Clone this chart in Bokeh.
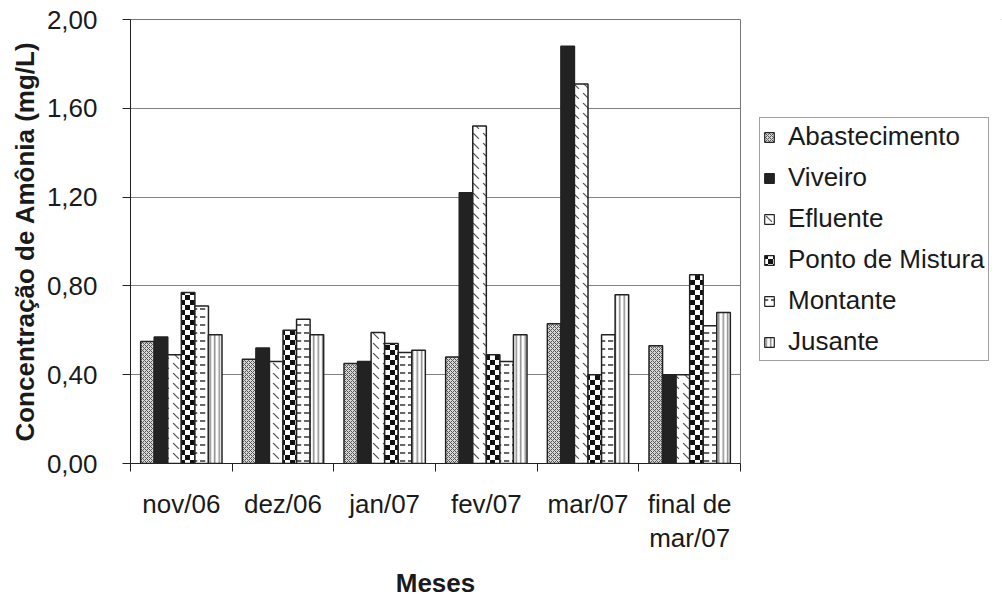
import base64
import struct
import zlib

import numpy as np
from bokeh.plotting import figure
from bokeh.layouts import row
from bokeh.core.properties import value
from bokeh.models import (ColumnDataSource, Range1d, FixedTicker, CustomJSTickFormatter,
                          Legend, LegendItem, ImageURLTexture)
from bokeh.transform import dodge
from bokeh.embed import file_html
from bokeh.resources import INLINE

# Ammonia concentration (mg/L) per sampling point and month
categories = ["nov/06", "dez/06", "jan/07", "fev/07", "mar/07", "final de\nmar/07"]
abastecimento = [0.55, 0.47, 0.45, 0.48, 0.63, 0.53]
viveiro = [0.57, 0.52, 0.46, 1.22, 1.88, 0.40]
efluente = [0.49, 0.46, 0.59, 1.52, 1.71, 0.40]
ponto_de_mistura = [0.77, 0.60, 0.54, 0.49, 0.40, 0.85]
montante = [0.71, 0.65, 0.50, 0.46, 0.58, 0.62]
jusante = [0.58, 0.58, 0.51, 0.58, 0.76, 0.68]

series_names = ["Abastecimento", "Viveiro", "Efluente", "Ponto de Mistura", "Montante", "Jusante"]
series_values = [abastecimento, viveiro, efluente, ponto_de_mistura, montante, jusante]
y_ticks = [0.0, 0.4, 0.8, 1.2, 1.6, 2.0]

FONT = "Liberation Sans"
centers = list(np.arange(len(categories)) + 0.5)
source = ColumnDataSource(dict(x=centers, **{f"s{i}": v for i, v in enumerate(series_values)}))


def checker_png(cell=5, dark=17, light=255):
    """Tiny grayscale PNG tile (2x2 cells) used as a checkerboard texture."""
    size = 2 * cell
    raw = b""
    for yy in range(size):
        line = bytes(dark if ((xx // cell) + (yy // cell)) % 2 == 0 else light for xx in range(size))
        raw += b"\x00" + line

    def chunk(tag, data):
        return struct.pack(">I", len(data)) + tag + data + struct.pack(">I", zlib.crc32(tag + data) & 0xFFFFFFFF)

    png = (b"\x89PNG\r\n\x1a\n"
           + chunk(b"IHDR", struct.pack(">IIBBBBB", size, size, 8, 0, 0, 0, 0))
           + chunk(b"IDAT", zlib.compress(raw))
           + chunk(b"IEND", b""))
    return "data:image/png;base64," + base64.b64encode(png).decode()


checker = ImageURLTexture(url=checker_png(), repetition="repeat")

styles = [
    dict(fill_color="#d8d8d8", hatch_pattern="diagonal_cross", hatch_color="#555555", hatch_scale=4, hatch_weight=1),
    dict(fill_color="#222222"),
    dict(fill_color="white", hatch_pattern="left_diagonal_dash", hatch_color="#555555", hatch_scale=10, hatch_weight=1.2),
    dict(fill_color="white", hatch_pattern=value("checker"), hatch_extra={"checker": checker}),
    dict(fill_color="white", hatch_pattern="horizontal_dash", hatch_color="#333333", hatch_scale=8, hatch_weight=1.5),
    dict(fill_color="white", hatch_pattern="vertical_line", hatch_color="#888888", hatch_scale=4.5, hatch_weight=1.5),
]

p = figure(width=759, height=601, output_backend="svg", toolbar_location=None,
           x_range=Range1d(0, len(categories)), y_range=Range1d(0, 2.0),
           min_border_left=130, min_border_right=19, min_border_top=19, min_border_bottom=137)
p.background_fill_color = "white"
p.border_fill_color = "white"
p.outline_line_color = "#777777"
p.outline_line_width = 1

n = len(series_names)
bar_w = 0.8 / n
for i, st in enumerate(styles):
    off = (i - (n - 1) / 2) * bar_w
    p.vbar(x=dodge("x", off), top=f"s{i}", width=bar_w, source=source,
           line_color="#222222", line_width=1.5, **st)

# y axis
p.yaxis.ticker = FixedTicker(ticks=y_ticks)
p.yaxis.formatter = CustomJSTickFormatter(code="return tick.toFixed(2).replace('.', ',');")
p.yaxis.major_tick_in = 0
p.yaxis.major_tick_out = 8
p.yaxis.major_label_standoff = 25
p.yaxis.axis_label = "Concentração de Amônia (mg/L)"
p.yaxis.axis_label_standoff = 4

# x axis: labels at group centres, ticks at group boundaries
p.xaxis.ticker = FixedTicker(ticks=centers, minor_ticks=list(range(len(categories) + 1)))
p.xaxis.major_label_overrides = {c: lab for c, lab in zip(centers, categories)}
p.xaxis.major_tick_in = 0
p.xaxis.major_tick_out = 0
p.xaxis.minor_tick_in = 0
p.xaxis.minor_tick_out = 8
p.xaxis.major_label_standoff = 17
p.xaxis.axis_label = "Meses"
p.xaxis.axis_label_standoff = 12

for ax in (p.xaxis, p.yaxis):
    ax.axis_line_color = "#222222"
    ax.major_tick_line_color = "#222222"
    ax.minor_tick_line_color = "#222222"
    ax.major_label_text_font = FONT
    ax.major_label_text_font_size = "26px"
    ax.major_label_text_color = "#1a1a1a"
    ax.major_label_text_line_height = 1.15
    ax.axis_label_text_font = FONT
    ax.axis_label_text_font_size = "26px"
    ax.axis_label_text_font_style = "bold"
    ax.axis_label_text_color = "#1a1a1a"
p.yaxis.minor_tick_line_color = None

p.xgrid.grid_line_color = None
p.ygrid.ticker = FixedTicker(ticks=y_ticks)
p.ygrid.grid_line_color = "#808080"
p.ygrid.grid_line_width = 1

# legend panel: a bare figure whose swatch renderers sit outside its visible ranges
lg = figure(width=243, height=601, output_backend="svg", toolbar_location=None,
            x_range=Range1d(0, 1), y_range=Range1d(0, 1), min_border=0)
lg.axis.visible = False
lg.grid.visible = False
lg.outline_line_color = None
lg.border_fill_color = "white"
swatch = ColumnDataSource(dict(x=[5.0], bottom=[5.0], top=[6.0]))
items = []
for name, st in zip(series_names, styles):
    r = lg.vbar(x="x", bottom="bottom", top="top", width=0.1, source=swatch,
                line_color="#222222", line_width=1.2, **st)
    items.append(LegendItem(label=name, renderers=[r]))

legend = Legend(items=items, location=(0, 102))
legend.label_text_font = FONT
legend.label_text_font_size = "26px"
legend.label_text_color = "#1a1a1a"
legend.glyph_width = 12
legend.glyph_height = 12
legend.label_standoff = 13
legend.label_height = 26
legend.spacing = 10
legend.padding = 3
legend.margin = 0
legend.border_line_color = "#444444"
legend.border_line_width = 1
legend.background_fill_color = "white"
lg.add_layout(legend)

layout = row(p, lg, spacing=0)
open("out.html", "w").write(file_html(layout, INLINE))
